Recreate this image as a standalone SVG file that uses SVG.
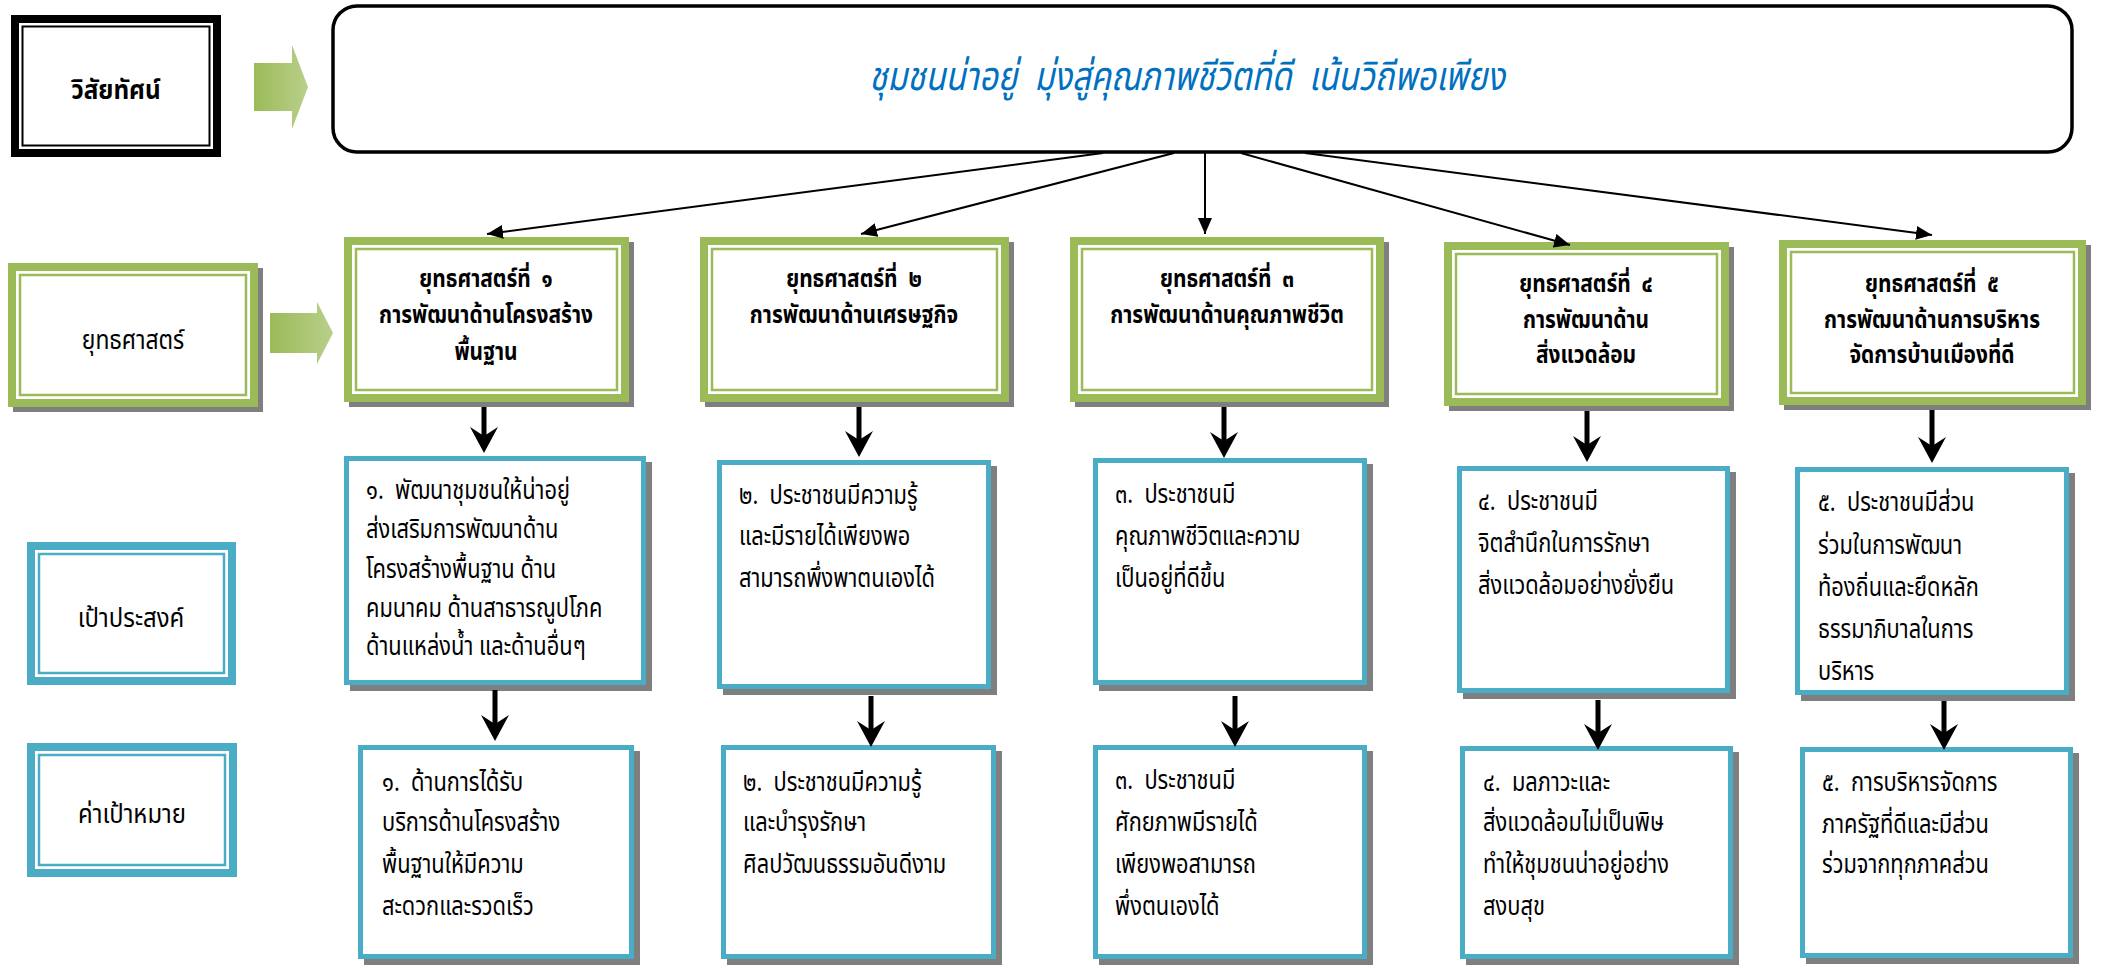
<svg xmlns="http://www.w3.org/2000/svg" width="2101" height="971" viewBox="0 0 2101 971">
<defs>
<style>
.t{font-family:"Noto Sans Thai","Noto Sans","DejaVu Sans",sans-serif;font-size:26px;fill:#000;white-space:pre}
.b{font-weight:bold;text-anchor:middle;font-size:24px}
.c{text-anchor:middle}
.sh{fill:#7F7F7F}
.gout{fill:#fff;stroke:#9BBB59;stroke-width:8}
.gin{fill:none;stroke:#9BBB59;stroke-width:2.5}
.bout{fill:#fff;stroke:#4BACC6;stroke-width:8}
.bin{fill:none;stroke:#4BACC6;stroke-width:2.5}
.box{fill:#fff;stroke:#4BACC6;stroke-width:5}
.thin{stroke:#000;stroke-width:2;fill:none;marker-end:url(#tri)}
.thick{stroke:#000;stroke-width:5;fill:none;marker-end:url(#stealth)}
.garrow{fill:url(#ghead)}
</style>
<linearGradient id="ghead" x1="0" y1="0" x2="1" y2="0">
<stop offset="0" stop-color="#9BBB59"/>
<stop offset="1" stop-color="#B9CF8A"/>
</linearGradient>
<marker id="tri" viewBox="0 0 16 14" refX="16" refY="7" markerWidth="16" markerHeight="14" markerUnits="userSpaceOnUse" orient="auto">
<path d="M0,0 L16,7 L0,14 Z" fill="#000"/>
</marker>
<marker id="stealth" viewBox="0 0 26 28" refX="9" refY="14" markerWidth="26" markerHeight="28" markerUnits="userSpaceOnUse" orient="auto">
<path d="M0,0 L26,14 L0,28 L9,14 Z" fill="#000"/>
</marker>
</defs>
<rect width="2101" height="971" fill="#fff"/>

<g id="label-vision">
<rect x="15" y="19" width="202" height="134" fill="#fff" stroke="#000" stroke-width="8"/>
<rect x="22.5" y="26.5" width="187" height="119" fill="none" stroke="#000" stroke-width="2"/>
<text class="t b" transform="translate(116,0) scale(0.9,1)" x="0" y="99" style="font-size:27px">วิสัยทัศน์</text>
</g>

<g id="arrow-vision">
<polygon class="garrow" points="254,63 292,63 292,45 308,87 292,129 292,111 254,111"/>
</g>

<g id="vision">
<rect x="333" y="6" width="1739" height="146" rx="24" ry="24" fill="#fff" stroke="#000" stroke-width="3.5"/>
<text class="t c" transform="translate(1187,0) scale(0.82,1)" x="0" y="90" style="font-size:40px;font-style:italic;fill:#0070C0">ชุมชนน่าอยู่  มุ่งสู่คุณภาพชีวิตที่ดี  เน้นวิถีพอเพียง</text>
</g>

<g id="label-strategy">
<rect class="sh" x="13" y="268" width="250" height="144"/>
<rect class="gout" x="12" y="267" width="242" height="136"/>
<rect class="gin" x="20" y="275" width="226" height="120"/>
<text class="t c" transform="translate(133,0) scale(0.88,1)" x="0" y="349">ยุทธศาสตร์</text>
</g>

<g id="arrow-strategy">
<polygon class="garrow" points="270,313 317,313 317,302 333,333 317,364 317,353 270,353"/>
</g>

<g id="s1">
<rect class="sh" x="349" y="242" width="285" height="165"/>
<rect class="gout" x="348" y="241" width="277" height="157"/>
<rect class="gin" x="356" y="249" width="261" height="141"/>
<g transform="translate(486,0) scale(0.87,1)">
<text class="t b" x="0" y="287">ยุทธศาสตร์ที่  ๑</text>
<text class="t b" x="0" y="323">การพัฒนาด้านโครงสร้าง</text>
<text class="t b" x="0" y="360">พื้นฐาน</text>
</g>
</g>

<g id="s2">
<rect class="sh" x="705" y="242" width="309" height="165"/>
<rect class="gout" x="704" y="241" width="301" height="157"/>
<rect class="gin" x="712" y="249" width="285" height="141"/>
<g transform="translate(854,0) scale(0.87,1)">
<text class="t b" x="0" y="287">ยุทธศาสตร์ที่  ๒</text>
<text class="t b" x="0" y="323">การพัฒนาด้านเศรษฐกิจ</text>
</g>
</g>

<g id="s3">
<rect class="sh" x="1075" y="242" width="314" height="165"/>
<rect class="gout" x="1074" y="241" width="306" height="157"/>
<rect class="gin" x="1082" y="249" width="290" height="141"/>
<g transform="translate(1227,0) scale(0.87,1)">
<text class="t b" x="0" y="287">ยุทธศาสตร์ที่  ๓</text>
<text class="t b" x="0" y="323">การพัฒนาด้านคุณภาพชีวิต</text>
</g>
</g>

<g id="s4">
<rect class="sh" x="1449" y="247" width="285" height="164"/>
<rect class="gout" x="1448" y="246" width="277" height="156"/>
<rect class="gin" x="1456" y="254" width="261" height="140"/>
<g transform="translate(1586,0) scale(0.87,1)">
<text class="t b" x="0" y="292">ยุทธศาสตร์ที่  ๔</text>
<text class="t b" x="0" y="328">การพัฒนาด้าน</text>
<text class="t b" x="0" y="363">สิ่งแวดล้อม</text>
</g>
</g>

<g id="s5">
<rect class="sh" x="1784" y="245" width="307" height="165"/>
<rect class="gout" x="1783" y="244" width="299" height="157"/>
<rect class="gin" x="1791" y="252" width="283" height="141"/>
<g transform="translate(1932,0) scale(0.87,1)">
<text class="t b" x="0" y="292">ยุทธศาสตร์ที่  ๕</text>
<text class="t b" x="0" y="328">การพัฒนาด้านการบริหาร</text>
<text class="t b" x="0" y="363">จัดการบ้านเมืองที่ดี</text>
</g>
</g>

<g id="label-goal">
<rect class="bout" x="31" y="546" width="201" height="135"/>
<rect class="bin" x="39" y="554" width="185" height="119"/>
<text class="t c" transform="translate(131,0) scale(0.92,1)" x="0" y="627">เป้าประสงค์</text>
</g>

<g id="label-target">
<rect class="bout" x="31" y="747" width="202" height="126"/>
<rect class="bin" x="39" y="755" width="186" height="110"/>
<text class="t c" transform="translate(132,0) scale(0.92,1)" x="0" y="823">ค่าเป้าหมาย</text>
</g>

<g id="g1">
<rect class="sh" x="350" y="462" width="302" height="229"/>
<rect class="box" x="346.5" y="458.5" width="297" height="224"/>
<g transform="translate(366,0) scale(0.84,1)">
<text class="t" x="0" y="499">๑.  พัฒนาชุมชนให้น่าอยู่</text>
<text class="t" x="0" y="538">ส่งเสริมการพัฒนาด้าน</text>
<text class="t" x="0" y="578">โครงสร้างพื้นฐาน ด้าน</text>
<text class="t" x="0" y="617">คมนาคม ด้านสาธารณูปโภค</text>
<text class="t" x="0" y="655">ด้านแหล่งน้ำ และด้านอื่นๆ</text>
</g>
</g>

<g id="g2">
<rect class="sh" x="723" y="466" width="274" height="229"/>
<rect class="box" x="719.5" y="462.5" width="269" height="224"/>
<g transform="translate(739,0) scale(0.84,1)">
<text class="t" x="0" y="504">๒.  ประชาชนมีความรู้</text>
<text class="t" x="0" y="545">และมีรายได้เพียงพอ</text>
<text class="t" x="0" y="587">สามารถพึ่งพาตนเองได้</text>
</g>
</g>

<g id="g3">
<rect class="sh" x="1099" y="464" width="274" height="227"/>
<rect class="box" x="1095.5" y="460.5" width="269" height="222"/>
<g transform="translate(1115,0) scale(0.84,1)">
<text class="t" x="0" y="503">๓.  ประชาชนมี</text>
<text class="t" x="0" y="545">คุณภาพชีวิตและความ</text>
<text class="t" x="0" y="587">เป็นอยู่ที่ดีขึ้น</text>
</g>
</g>

<g id="g4">
<rect class="sh" x="1463" y="472" width="273" height="227"/>
<rect class="box" x="1459.5" y="468.5" width="268" height="222"/>
<g transform="translate(1478,0) scale(0.84,1)">
<text class="t" x="0" y="510">๔.  ประชาชนมี</text>
<text class="t" x="0" y="552">จิตสำนึกในการรักษา</text>
<text class="t" x="0" y="594">สิ่งแวดล้อมอย่างยั่งยืน</text>
</g>
</g>

<g id="g5">
<rect class="sh" x="1801" y="473" width="274" height="228"/>
<rect class="box" x="1797.5" y="469.5" width="269" height="223"/>
<g transform="translate(1818,0) scale(0.84,1)">
<text class="t" x="0" y="511">๕.  ประชาชนมีส่วน</text>
<text class="t" x="0" y="554">ร่วมในการพัฒนา</text>
<text class="t" x="0" y="596">ท้องถิ่นและยึดหลัก</text>
<text class="t" x="0" y="638">ธรรมาภิบาลในการ</text>
<text class="t" x="0" y="680">บริหาร</text>
</g>
</g>

<g id="t1">
<rect class="sh" x="364" y="751" width="276" height="214"/>
<rect class="box" x="360.5" y="747.5" width="271" height="209"/>
<g transform="translate(382,0) scale(0.84,1)">
<text class="t" x="0" y="791">๑.  ด้านการได้รับ</text>
<text class="t" x="0" y="831">บริการด้านโครงสร้าง</text>
<text class="t" x="0" y="873">พื้นฐานให้มีความ</text>
<text class="t" x="0" y="915">สะดวกและรวดเร็ว</text>
</g>
</g>

<g id="t2">
<rect class="sh" x="727" y="751" width="275" height="214"/>
<rect class="box" x="723.5" y="747.5" width="270" height="209"/>
<g transform="translate(743,0) scale(0.84,1)">
<text class="t" x="0" y="791">๒.  ประชาชนมีความรู้</text>
<text class="t" x="0" y="831">และบำรุงรักษา</text>
<text class="t" x="0" y="873">ศิลปวัฒนธรรมอันดีงาม</text>
</g>
</g>

<g id="t3">
<rect class="sh" x="1099" y="751" width="274" height="214"/>
<rect class="box" x="1095.5" y="747.5" width="269" height="209"/>
<g transform="translate(1115,0) scale(0.84,1)">
<text class="t" x="0" y="789">๓.  ประชาชนมี</text>
<text class="t" x="0" y="831">ศักยภาพมีรายได้</text>
<text class="t" x="0" y="873">เพียงพอสามารถ</text>
<text class="t" x="0" y="915">พึ่งตนเองได้</text>
</g>
</g>

<g id="t4">
<rect class="sh" x="1466" y="752" width="273" height="213"/>
<rect class="box" x="1462.5" y="748.5" width="268" height="208"/>
<g transform="translate(1483,0) scale(0.84,1)">
<text class="t" x="0" y="791">๔.  มลภาวะและ</text>
<text class="t" x="0" y="831">สิ่งแวดล้อมไม่เป็นพิษ</text>
<text class="t" x="0" y="873">ทำให้ชุมชนน่าอยู่อย่าง</text>
<text class="t" x="0" y="915">สงบสุข</text>
</g>
</g>

<g id="t5">
<rect class="sh" x="1806" y="753" width="273" height="211"/>
<rect class="box" x="1802.5" y="749.5" width="268" height="206"/>
<g transform="translate(1822,0) scale(0.84,1)">
<text class="t" x="0" y="791">๕.  การบริหารจัดการ</text>
<text class="t" x="0" y="833">ภาครัฐที่ดีและมีส่วน</text>
<text class="t" x="0" y="873">ร่วมจากทุกภาคส่วน</text>
</g>
</g>

<g id="connectors">
<line class="thin" x1="1103" y1="153" x2="487" y2="234"/>
<line class="thin" x1="1174" y1="153" x2="861" y2="234"/>
<line class="thin" x1="1205" y1="153" x2="1205" y2="234"/>
<line class="thin" x1="1241" y1="153" x2="1570" y2="245"/>
<line class="thin" x1="1305" y1="153" x2="1932" y2="235"/>
<line class="thick" x1="484" y1="407" x2="484" y2="436"/>
<line class="thick" x1="495" y1="690" x2="495" y2="724"/>
<line class="thick" x1="859" y1="407" x2="859" y2="440"/>
<line class="thick" x1="871" y1="696" x2="871" y2="730"/>
<line class="thick" x1="1224" y1="407" x2="1224" y2="441"/>
<line class="thick" x1="1235" y1="696" x2="1235" y2="730"/>
<line class="thick" x1="1587" y1="411" x2="1587" y2="445"/>
<line class="thick" x1="1598" y1="700" x2="1598" y2="733"/>
<line class="thick" x1="1932" y1="410" x2="1932" y2="446"/>
<line class="thick" x1="1944" y1="701" x2="1944" y2="733"/>
</g>
</svg>
